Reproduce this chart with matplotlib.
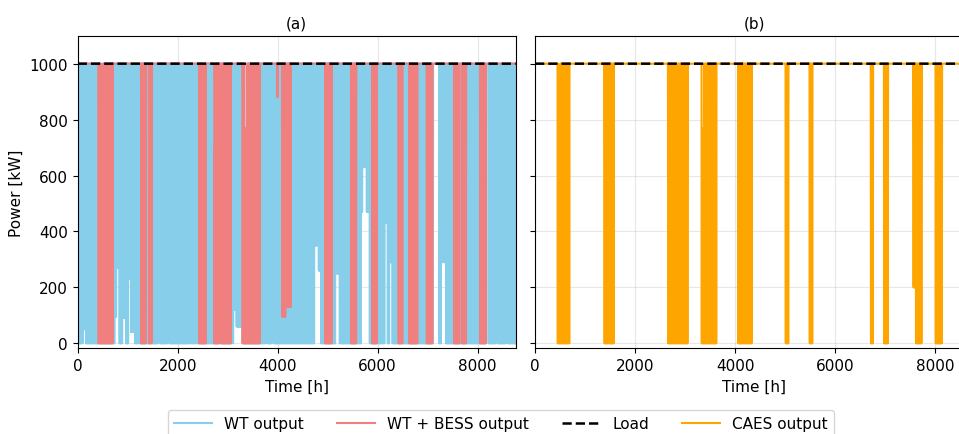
import numpy as np
import matplotlib
matplotlib.use("Agg")
import matplotlib.pyplot as plt

plt.rcParams['font.size'] = 11

HOURS = 8760
LOAD_KW = 1000

# wind turbine output: stretches where the hourly swing stays inside [lo, hi] kW
# (everywhere else it swings over the full 0-1000 kW range)
wt_start = [100, 200, 466, 610, 733, 753, 780, 900, 1020, 1066, 1146, 1205, 1460,
            1600, 1800, 2233, 2353, 2733, 2833, 2930, 3080, 3120, 3180, 3340, 3753,
            3886, 4730, 4800, 4820, 5120, 5153, 5666, 5700, 5780, 6133, 6233, 6886,
            7113, 7266, 7300, 8166, 8353, 8566]
wt_end = [160, 225, 500, 630, 753, 780, 830, 966, 1066, 1146, 1166, 1225, 1472,
          1633, 1833, 2266, 2386, 2760, 2853, 2960, 3106, 3180, 3290, 3380, 3786,
          3913, 4790, 4820, 4866, 5153, 5233, 5700, 5780, 5833, 6200, 6300, 6913,
          7233, 7300, 7366, 8220, 8400, 8600]
wt_lo = [50, 0, 0, 0, 275, 95, 270, 90, 230, 40, 0, 1000, 1000,
         740, 760, 70, 660, 0, 1000, 0, 590, 120, 60, 0, 310,
         80, 350, 660, 260, 0, 250, 470, 630, 470, 430, 290, 0,
         1000, 380, 290, 1000, 370, 895]
wt_hi = [1000, 480, 820, 800, 1000, 1000, 1000, 1000, 1000, 1000, 860, 1000, 1000,
         1000, 1000, 1000, 1000, 700, 1000, 600, 1000, 1000, 1000, 770, 1000,
         1000, 1000, 1000, 1000, 900, 1000, 1000, 1000, 1000, 1000, 1000, 890,
         1000, 1000, 1000, 1000, 1000, 1000]

# periods where the battery is empty and the supply falls back to the turbine
bess_start = [420, 1266, 1420, 2433, 2733, 2880, 3300, 3985, 4086, 4200, 4953, 5466,
              5886, 6420, 6633, 6980, 7533, 7686, 8046]
bess_end = [700, 1366, 1486, 2566, 2833, 3066, 3646, 4005, 4160, 4266, 5086, 5580,
            5986, 6500, 6800, 7100, 7633, 7766, 8166]
bess_floor = [0, 0, 0, 0, 0, 0, 0, 880, 95, 130, 0, 0,
              0, 0, 0, 0, 0, 0, 0]

# periods where the CAES store is empty
caes_start = [454, 1387, 2653, 3333, 4067, 5013, 5487, 6720, 6980, 7567, 7613, 8013]
caes_end = [686, 1580, 3053, 3633, 4333, 5067, 5553, 6767, 7060, 7613, 7740, 8147]
caes_floor = [0, 0, 0, 0, 0, 0, 0, 0, 0, 200, 0, 0]


# turbine swings between lo and hi every few hours
t = np.arange(0, HOURS + 1, 6)
lo = np.zeros(len(t))
hi = np.full(len(t), float(LOAD_KW))
for s, e, l, h in zip(wt_start, wt_end, wt_lo, wt_hi):
    m = (t >= s) & (t < e)
    lo[m] = l
    hi[m] = h
wt = np.where(np.arange(len(t)) % 2 == 0, lo, hi)


def supplied(starts, ends, floors):
    out = np.full(len(t), float(LOAD_KW))
    for s, e, f in zip(starts, ends, floors):
        m = (t >= s) & (t < e)
        out[m] = np.maximum(wt[m], f)
    return out


wt_bess = supplied(bess_start, bess_end, bess_floor)
caes = supplied(caes_start, caes_end, caes_floor)
load = np.full(len(t), float(LOAD_KW))

fig = plt.figure(figsize=(9.59, 4.35), dpi=100)
ax1 = fig.add_axes([0.081, 0.197, 0.4567, 0.7186])
ax2 = fig.add_axes([0.5579, 0.197, 0.4567, 0.7186], sharey=ax1)

l1, = ax1.plot(t, wt, color='skyblue', lw=1.5, label='WT output')
l2, = ax1.plot(t, wt_bess, color='lightcoral', lw=1.5, label='WT + BESS output')
l3, = ax1.plot(t, load, 'k--', lw=1.8, label='Load')
ax1.set_title('(a)', fontsize=11)
ax1.set_ylabel('Power [kW]')

l4, = ax2.plot(t, caes, color='orange', lw=1.5, label='CAES output')
ax2.plot(t, load, 'k--', lw=1.8)
ax2.set_title('(b)', fontsize=11)
ax2.tick_params(labelleft=False)

for ax in (ax1, ax2):
    ax.set_xlim(0, HOURS)
    ax.set_ylim(-18, 1100)
    ax.set_xticks([0, 2000, 4000, 6000, 8000])
    ax.set_yticks([0, 200, 400, 600, 800, 1000])
    ax.set_xlabel('Time [h]')
    ax.grid(True, alpha=0.3)

fig.legend(handles=[l1, l2, l3, l4], loc='upper center',
           bbox_to_anchor=(0.5224, 0.055), borderaxespad=0,
           ncol=4, fontsize=11, handlelength=2.5, columnspacing=2.15)

fig.savefig('out.png', dpi=100)
